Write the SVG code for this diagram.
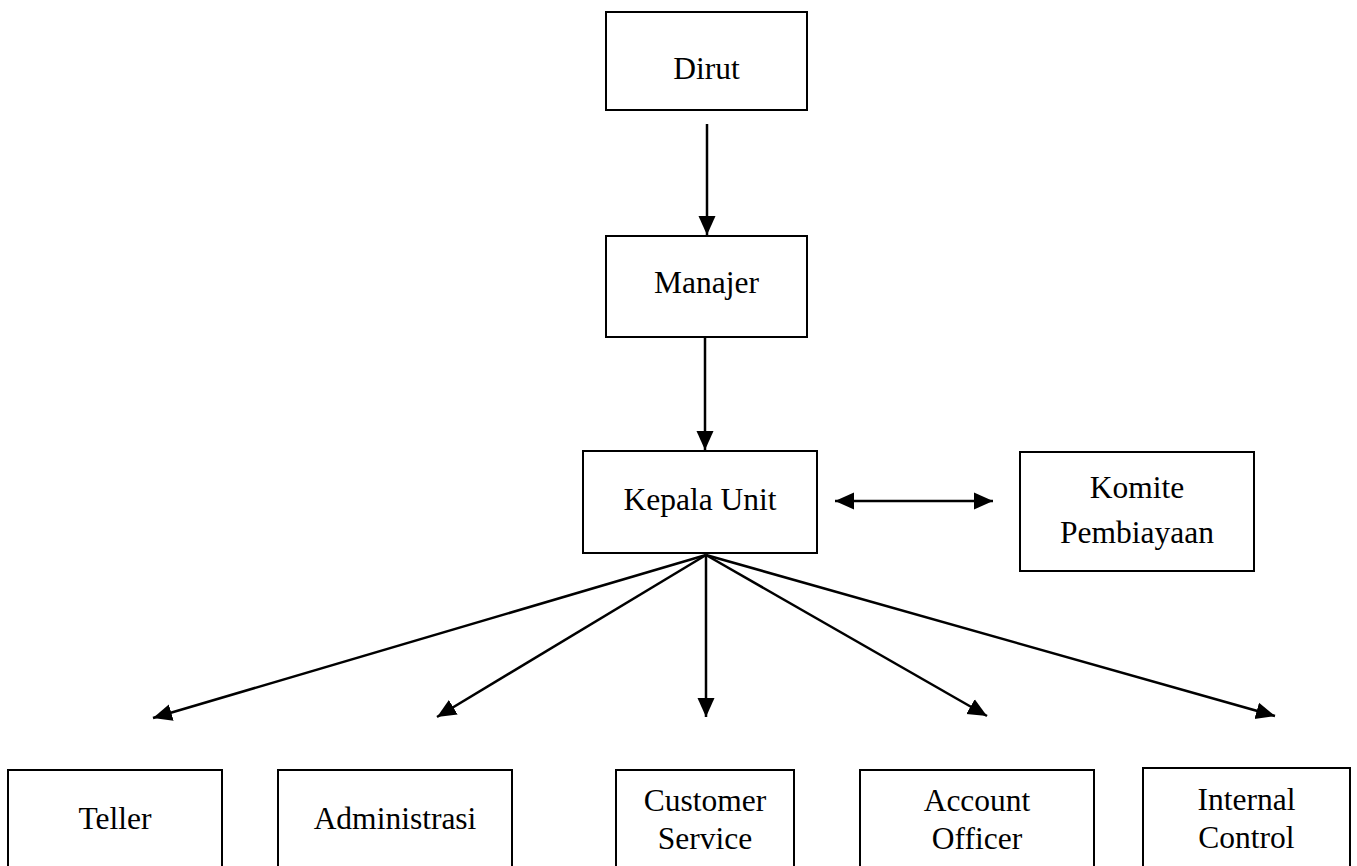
<svg xmlns="http://www.w3.org/2000/svg" width="1357" height="866" viewBox="0 0 1357 866">
<style>
.box{fill:#fff;stroke:#000;stroke-width:2}
.lbl{font-family:"Liberation Serif","Times New Roman",serif;font-size:31.5px;fill:#000;text-anchor:middle}
.con{stroke:#000;stroke-width:2.5;fill:none}
</style>
<defs>
<marker id="ah" markerUnits="userSpaceOnUse" markerWidth="22" markerHeight="22" viewBox="0 0 22 22" refX="19" refY="11" orient="auto-start-reverse">
<path d="M0,2.5 L19,11 L0,19.5 Z" fill="#000"/>
</marker>
</defs>
<rect width="1357" height="866" fill="#fff"/>
<g id="connectors">
<line class="con" x1="707" y1="124" x2="707" y2="235" marker-end="url(#ah)"/>
<line class="con" x1="705" y1="337" x2="705" y2="450" marker-end="url(#ah)"/>
<line class="con" x1="835" y1="501" x2="993" y2="501" marker-start="url(#ah)" marker-end="url(#ah)"/>
<line class="con" x1="706" y1="555" x2="153" y2="718" marker-end="url(#ah)"/>
<line class="con" x1="706" y1="555" x2="437" y2="717" marker-end="url(#ah)"/>
<line class="con" x1="706" y1="555" x2="706" y2="717" marker-end="url(#ah)"/>
<line class="con" x1="706" y1="555" x2="987" y2="716" marker-end="url(#ah)"/>
<line class="con" x1="706" y1="555" x2="1275" y2="716" marker-end="url(#ah)"/>
</g>
<g id="dirut"><rect class="box" x="606" y="12" width="201" height="98"/><text class="lbl" x="706.5" y="79">Dirut</text></g>
<g id="manajer"><rect class="box" x="606" y="236" width="201" height="101"/><text class="lbl" x="706.5" y="293">Manajer</text></g>
<g id="kepala-unit"><rect class="box" x="583" y="451" width="234" height="102"/><text class="lbl" x="700" y="510">Kepala Unit</text></g>
<g id="komite"><rect class="box" x="1020" y="452" width="234" height="119"/><text class="lbl" x="1137" y="498">Komite</text><text class="lbl" x="1137" y="543">Pembiayaan</text></g>
<g id="teller"><rect class="box" x="8" y="770" width="214" height="110"/><text class="lbl" x="115" y="829">Teller</text></g>
<g id="administrasi"><rect class="box" x="278" y="770" width="234" height="110"/><text class="lbl" x="395" y="829">Administrasi</text></g>
<g id="customer-service"><rect class="box" x="616" y="770" width="178" height="110"/><text class="lbl" x="705" y="811">Customer</text><text class="lbl" x="705" y="849">Service</text></g>
<g id="account-officer"><rect class="box" x="860" y="770" width="234" height="110"/><text class="lbl" x="977" y="811">Account</text><text class="lbl" x="977" y="849">Officer</text></g>
<g id="internal-control"><rect class="box" x="1143" y="768" width="207" height="112"/><text class="lbl" x="1246.5" y="810">Internal</text><text class="lbl" x="1246.5" y="848">Control</text></g>
</svg>
